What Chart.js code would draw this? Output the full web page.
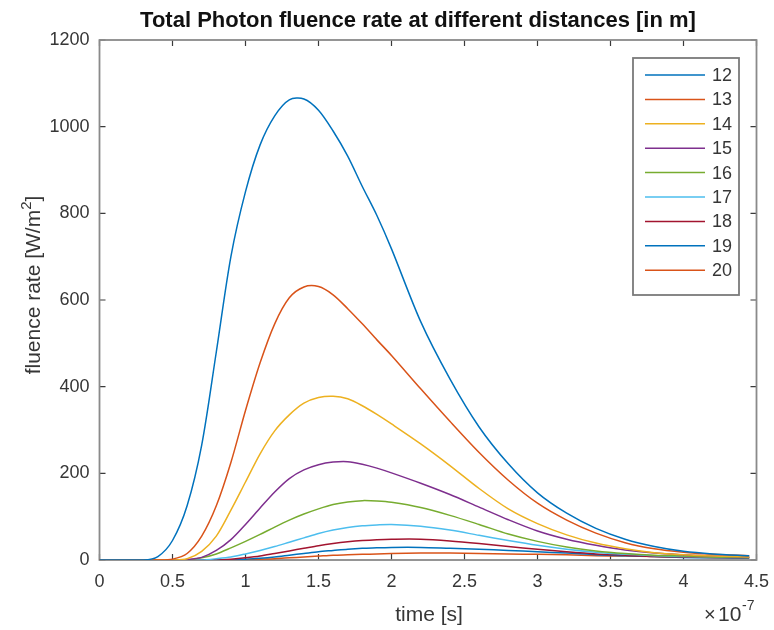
<!DOCTYPE html>
<html>
<head>
<meta charset="utf-8">
<script src="https://cdn.jsdelivr.net/npm/chart.js@4.4.0/dist/chart.umd.min.js"></script>
<style>
html, body { margin: 0; padding: 0; background: #fff; }
#wrap { width: 774px; height: 630px; }
</style>
</head>
<body>
<div id="wrap"><canvas id="fluence" width="774" height="630"></canvas></div>
<script>
// time axis in units of 1e-7 s (the x10^-7 factor is written under the axis)
const time = [0, 0.3, 0.4, 0.5, 0.6, 0.7, 0.8, 0.9, 1.0, 1.1, 1.2, 1.3, 1.4, 1.5, 1.6, 1.7, 1.8, 1.9, 2.0,
  2.2, 2.4, 2.6, 2.8, 3.0, 3.2, 3.4, 3.6, 3.8, 4.0, 4.2, 4.45];

const distances = ['12', '13', '14', '15', '16', '17', '18', '19', '20'];

// fluence rate [W/m^2] for each distance
const rate12 = [0, 0, 8, 45, 125, 265, 480, 700, 850, 958, 1025, 1062, 1064, 1038, 990, 932, 862, 795, 718,
  550, 418, 307, 222, 155, 108, 73, 48, 31, 20, 14, 10];
const rate13 = [0, 0, 0, 2, 15, 55, 125, 225, 345, 455, 545, 605, 630, 631, 612, 580, 545, 508, 472,
  395, 320, 248, 184, 131, 92, 62, 40, 26, 18, 13, 10];
const rate14 = [0, 0, 0, 0, 3, 20, 55, 115, 180, 245, 298, 335, 362, 375, 378, 372, 356, 336, 314,
  268, 218, 165, 118, 84, 58, 39, 26, 17, 12, 9, 7];
const rate15 = [0, 0, 0, 0, 1, 6, 22, 47, 82, 120, 157, 188, 208, 220, 226, 227, 221, 212, 201,
  177, 151, 122, 93, 67, 48, 34, 23, 16, 12, 9, 7];
const rate16 = [0, 0, 0, 0, 0, 5, 14, 28, 43, 59, 76, 92, 106, 118, 128, 134, 137, 136, 133,
  121, 103, 82, 60, 43, 30, 21, 15, 11, 9, 7, 6];
const rate17 = [0, 0, 0, 0, 0, 0, 3, 7, 14, 22, 31, 41, 51, 61, 69, 75, 79, 81, 82,
  78, 69, 57, 45, 34, 25, 18, 13, 10, 8, 7, 6];
const rate18 = [0, 0, 0, 0, 0, 0, 0, 2, 5, 9, 15, 21, 27, 33, 38, 42, 45, 47, 48,
  48, 44, 38, 31, 25, 19, 14, 11, 8, 7, 6, 5];
const rate19 = [0, 0, 0, 0, 0, 0, 0, 0, 2, 4, 7, 11, 15, 19, 22, 25, 27, 28, 29,
  29, 27, 25, 22, 19, 16, 12, 10, 8, 6, 5, 4];
const rate20 = [0, 0, 0, 0, 0, 0, 0, 0, 1, 2, 3, 5, 7, 9, 11, 12, 13, 14, 15,
  16, 16, 15, 14, 13, 12, 10, 9, 8, 7, 6, 5];

const rates = [rate12, rate13, rate14, rate15, rate16, rate17, rate18, rate19, rate20];
const lineColors = ['#0072BD', '#D95319', '#EDB120', '#7E2F8E', '#77AC30', '#4DBEEE', '#A2142F', '#0072BD', '#D95319'];

const FONT = '"Liberation Sans", Arial, Helvetica, sans-serif';
const TEXT = '#363636';

// matlab style box, inward ticks, labels and legend
const matlabFrame = {
  id: 'matlabFrame',
  beforeDatasetsDraw(chart) {
    const { ctx, chartArea: a, scales: { x, y } } = chart;
    ctx.save();
    ctx.strokeStyle = '#3a3a3a';
    ctx.lineWidth = 1.2;
    ctx.beginPath();
    x.ticks.forEach(t => {
      const px = x.getPixelForValue(t.value);
      ctx.moveTo(px, a.bottom); ctx.lineTo(px, a.bottom - 6);
      ctx.moveTo(px, a.top); ctx.lineTo(px, a.top + 6);
    });
    y.ticks.forEach(t => {
      const py = y.getPixelForValue(t.value);
      ctx.moveTo(a.left, py); ctx.lineTo(a.left + 6, py);
      ctx.moveTo(a.right, py); ctx.lineTo(a.right - 6, py);
    });
    ctx.stroke();

    ctx.strokeStyle = '#8a8a8a';
    ctx.lineWidth = 1.8;
    ctx.strokeRect(a.left, a.top, a.right - a.left, a.bottom - a.top);
    ctx.restore();
  },
  afterDatasetsDraw(chart) {
    const { ctx } = chart;
    ctx.save();
    // legend
    const lx = 633, ly = 58, lw = 106, lh = 237;
    ctx.fillStyle = '#fff';
    ctx.fillRect(lx, ly, lw, lh);
    ctx.strokeStyle = '#7a7a7a';
    ctx.lineWidth = 1.8;
    ctx.strokeRect(lx, ly, lw, lh);
    ctx.font = '18px ' + FONT;
    ctx.textBaseline = 'middle';
    ctx.textAlign = 'left';
    chart.data.datasets.forEach((ds, i) => {
      const ry = 75 + i * 24.4;
      ctx.strokeStyle = ds.borderColor;
      ctx.lineWidth = 1.5;
      ctx.beginPath();
      ctx.moveTo(645, ry); ctx.lineTo(705, ry);
      ctx.stroke();
      ctx.fillStyle = TEXT;
      ctx.fillText(ds.label, 712, ry + 1);
    });
    ctx.restore();
  },
  afterDraw(chart) {
    const { ctx } = chart;
    ctx.save();
    ctx.fillStyle = '#111';
    ctx.textAlign = 'center';
    ctx.textBaseline = 'alphabetic';
    ctx.font = 'bold 22px ' + FONT;
    ctx.fillText('Total Photon fluence rate at different distances [in m]', 418, 27);

    ctx.fillStyle = TEXT;
    ctx.font = '21px ' + FONT;
    ctx.fillText('time [s]', 429, 621);

    // x10^-7 exponent
    ctx.textAlign = 'left';
    ctx.font = '20px ' + FONT;
    ctx.fillText('\u00d7', 704, 621);
    ctx.font = '21px ' + FONT;
    ctx.fillText('10', 718, 621);
    ctx.font = '14px ' + FONT;
    ctx.fillText('-7', 742, 610);

    // y label with superscript
    ctx.translate(40, 285);
    ctx.rotate(-Math.PI / 2);
    const main = 'fluence rate [W/m';
    ctx.font = '21px ' + FONT;
    const w1 = ctx.measureText(main).width;
    const w3 = ctx.measureText(']').width;
    ctx.font = '15px ' + FONT;
    const w2 = ctx.measureText('2').width;
    let sx = -(w1 + w2 + w3) / 2;
    ctx.font = '21px ' + FONT;
    ctx.fillText(main, sx, 0);
    ctx.font = '15px ' + FONT;
    ctx.fillText('2', sx + w1, -9);
    ctx.font = '21px ' + FONT;
    ctx.fillText(']', sx + w1 + w2, 0);
    ctx.restore();
  }
};

new Chart(document.getElementById('fluence'), {
  type: 'line',
  data: {
    labels: time,
    datasets: distances.map((d, i) => ({
      label: d,
      data: time.map((t, k) => ({ x: t, y: rates[i][k] })),
      borderColor: lineColors[i],
      borderWidth: 1.5,
      pointRadius: 0,
      fill: false,
      tension: 0.3
    }))
  },
  plugins: [matlabFrame],
  options: {
    responsive: false,
    animation: false,
    events: [],
    layout: { padding: { left: 0, top: 40, right: 17.5, bottom: 0 } },
    plugins: {
      legend: { display: false },
      title: { display: false },
      tooltip: { enabled: false }
    },
    scales: {
      x: {
        type: 'linear',
        min: 0,
        max: 4.5,
        afterFit: s => { s.height = 70; s.paddingLeft = 0; s.paddingRight = 0; },
        grid: { display: false, drawTicks: false },
        border: { display: false },
        ticks: {
          stepSize: 0.5,
          padding: 11,
          color: TEXT,
          font: { family: FONT, size: 18 },
          maxRotation: 0,
          callback: v => String(v)
        }
      },
      y: {
        min: 0,
        max: 1200,
        afterFit: s => { s.width = 99.5; s.paddingTop = 0; s.paddingBottom = 0; },
        grid: { display: false, drawTicks: false },
        border: { display: false },
        ticks: {
          stepSize: 200,
          padding: 10,
          color: TEXT,
          font: { family: FONT, size: 18 },
          callback: v => String(v)
        }
      }
    }
  }
});
</script>
</body>
</html>
